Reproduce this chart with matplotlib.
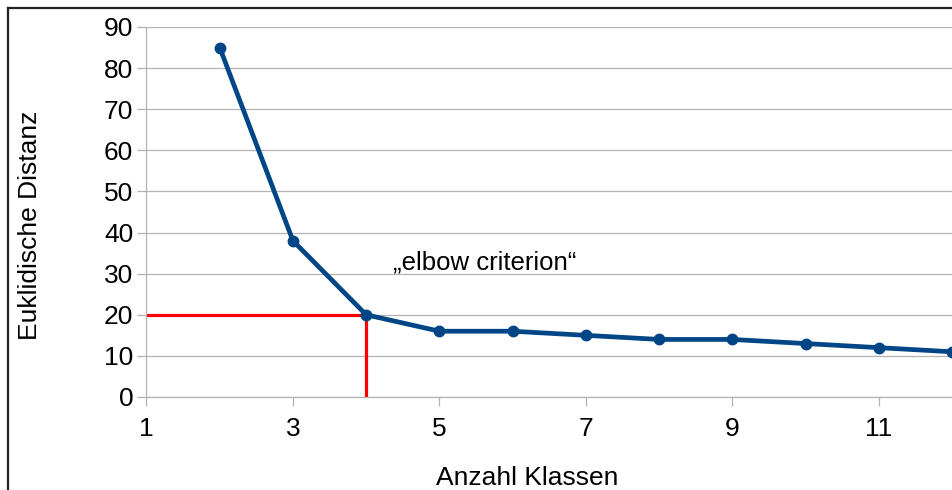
import matplotlib
matplotlib.use('Agg')
import matplotlib.pyplot as plt
from matplotlib.lines import Line2D

plt.rcParams['font.family'] = ['Liberation Sans', 'DejaVu Sans']

# data
klassen = [2, 3, 4, 5, 6, 7, 8, 9, 10, 11, 12]
distanz = [85, 38, 20, 16, 16, 15, 14, 14, 13, 12, 11]
elbow_x, elbow_y = 4, 20
x_ticks = [1, 3, 5, 7, 9, 11]
y_ticks = [0, 10, 20, 30, 40, 50, 60, 70, 80, 90]

W, H = 953, 490
fig = plt.figure(figsize=(W / 100, H / 100), dpi=100)
ax = fig.add_axes([146.5 / W, 1 - 397 / H, (952 - 146.5) / W, (397 - 27) / H])

grid_c = '#b3b3b3'
ax.set_axisbelow(True)
ax.yaxis.grid(True, color=grid_c, linewidth=0.9)

# elbow marker lines
ax.plot([x_ticks[0], elbow_x], [elbow_y, elbow_y], color='#ff0000', lw=2.3, zorder=2,
        solid_capstyle='butt')
ax.plot([elbow_x, elbow_x], [y_ticks[0], elbow_y], color='#ff0000', lw=2.3, zorder=2,
        solid_capstyle='butt')

ax.plot(klassen, distanz, color='#004586', lw=3.4, marker='o', markersize=7.5, zorder=3)

ax.text(4.37, 32.8, "\u201eelbow criterion\u201c", fontsize=18.5, ha='left', va='center')

ax.set_xlim(1, 12)
ax.set_ylim(0, 90)
ax.set_xticks(x_ticks)
ax.set_yticks(y_ticks)
ax.tick_params(axis='both', direction='out', length=6.5, width=0.9, color=grid_c,
               labelsize=19, pad=3)
ax.tick_params(axis='x', pad=8)
for s in ['top', 'right']:
    ax.spines[s].set_visible(False)
for s in ['left', 'bottom']:
    ax.spines[s].set_color(grid_c)
    ax.spines[s].set_linewidth(0.9)

fig.text(527 / W, 1 - 478 / H, "Anzahl Klassen", fontsize=19, ha='center', va='center')
fig.text(30 / W, 1 - 225 / H, "Euklidische Distanz", fontsize=19, ha='center', va='center',
         rotation=90)

# outer frame (left and top edges visible only)
fig.add_artist(Line2D([8.5 / W, 8.5 / W], [0, 1 - 8.5 / H], color='#222222', lw=1.6,
                      transform=fig.transFigure))
fig.add_artist(Line2D([8.5 / W, 1], [1 - 8.5 / H, 1 - 8.5 / H], color='#222222', lw=1.6,
                      transform=fig.transFigure))

fig.savefig('out.png', dpi=100)
